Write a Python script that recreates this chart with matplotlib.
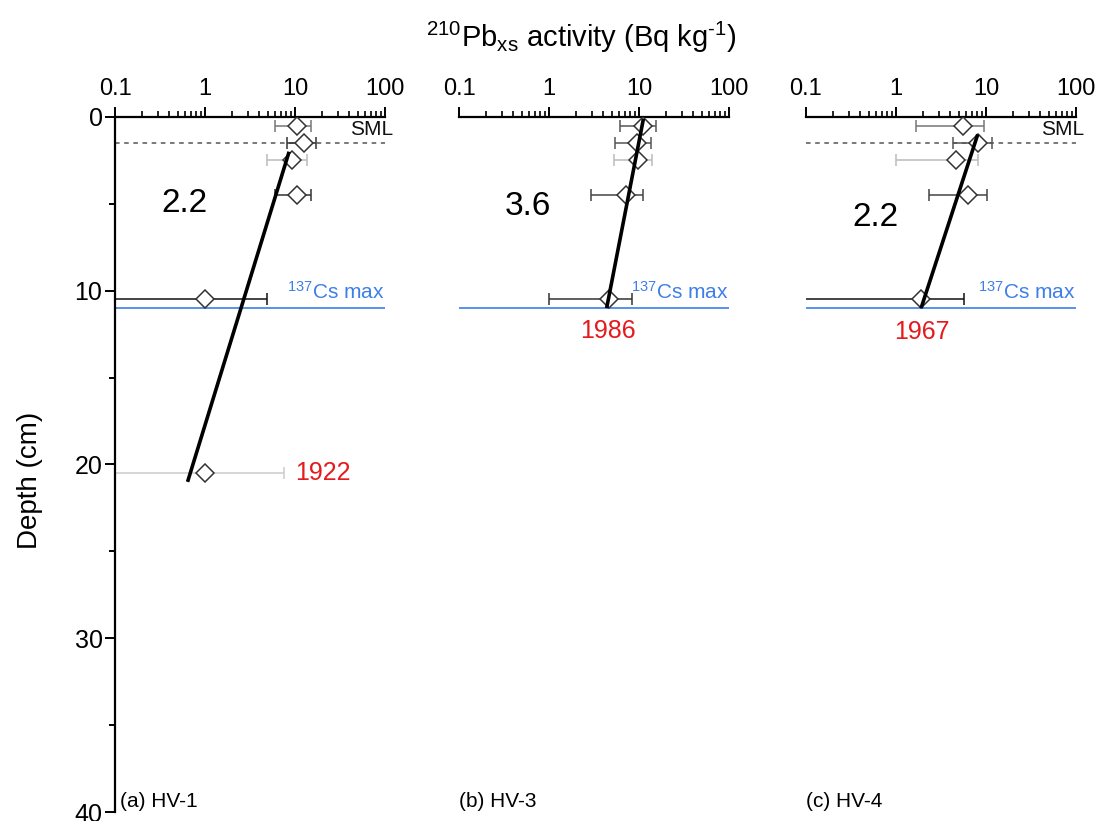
import matplotlib
matplotlib.use("Agg")
import matplotlib.pyplot as plt
from matplotlib.ticker import LogLocator, FixedLocator, NullFormatter, FixedFormatter, MultipleLocator

plt.rcParams['font.family'] = ['Liberation Sans', 'DejaVu Sans']
plt.rcParams['mathtext.fontset'] = 'custom'
plt.rcParams['mathtext.rm'] = 'Liberation Sans'
plt.rcParams['mathtext.it'] = 'Liberation Sans:italic'
plt.rcParams['mathtext.bf'] = 'Liberation Sans:bold'

# ---------------- data ----------------
panel_labels = ["(a) HV-1", "(b) HV-3", "(c) HV-4"]
rates = ["2.2", "3.6", "2.2"]
years = ["1922", "1986", "1967"]

hv1_depth = [0.5, 1.5, 2.5, 4.5, 10.5, 20.5]
hv1_value = [10.5, 12.6, 9.2, 10.6, 1.0, 1.0]
hv1_lo = [6.0, 8.1, 4.9, 6.0, 0.05, 0.1]
hv1_hi = [15.0, 17.1, 13.7, 15.0, 4.9, 7.5]
hv1_fit_depth = [2.0, 21.0]
hv1_fit_value = [8.6, 0.64]

hv3_depth = [0.5, 1.5, 2.5, 4.5, 10.5]
hv3_value = [11.2, 9.4, 9.8, 7.2, 4.7]
hv3_lo = [6.2, 5.4, 5.3, 2.9, 1.0]
hv3_hi = [15.5, 13.5, 13.9, 11.0, 8.3]
hv3_fit_depth = [0.1, 11.0]
hv3_fit_value = [11.2, 4.37]

hv4_depth = [0.5, 1.5, 2.5, 4.5, 10.5]
hv4_value = [5.6, 8.2, 4.7, 6.3, 1.9]
hv4_lo = [1.66, 4.25, 0.99, 2.3, 0.05]
hv4_hi = [9.6, 11.8, 8.1, 10.3, 5.7]
hv4_fit_depth = [1.0, 11.0]
hv4_fit_value = [8.1, 1.9]

sml_depth = [1.5, None, 1.5]
cs_depth = [11.0, 11.0, 11.0]

# errorbar shades (style)
hv1_ecol = ['#777777', '#333333', '#bbbbbb', '#333333', '#111111', '#cccccc']
hv3_ecol = ['#555555', '#555555', '#bbbbbb', '#444444', '#333333']
hv4_ecol = ['#777777', '#555555', '#bbbbbb', '#444444', '#111111']

panels = [
    (hv1_depth, hv1_value, hv1_lo, hv1_hi, hv1_fit_depth, hv1_fit_value, hv1_ecol),
    (hv3_depth, hv3_value, hv3_lo, hv3_hi, hv3_fit_depth, hv3_fit_value, hv3_ecol),
    (hv4_depth, hv4_value, hv4_lo, hv4_hi, hv4_fit_depth, hv4_fit_value, hv4_ecol),
]

# positions of annotation text (value, depth)
rate_pos = [(0.585, 4.95), (0.584, 5.16), (0.596, 5.76)]
year_pos = [(10.0, 20.5, 'left'), (4.5, 12.3, 'center'), (1.93, 12.4, 'center')]

W, H = 1104, 821
fig = plt.figure(figsize=(W / 100, H / 100), dpi=100)

lefts_px = [115, 459, 806]
axw_px = 270
top_px, bot_px = 117, 812

blue = '#3d7fe8'
red = '#e41a1c'

for i, (d, v, lo, hi, fd, fv, ecol) in enumerate(panels):
    ax = fig.add_axes([lefts_px[i] / W, 1 - bot_px / H, axw_px / W, (bot_px - top_px) / H])
    ax.set_xscale('log')
    ax.set_xlim(0.1, 100)
    ax.set_ylim(40, 0)
    for s in ['right', 'bottom']:
        ax.spines[s].set_visible(False)
    ax.spines['top'].set_linewidth(1.6)
    ax.spines['left'].set_linewidth(1.6)
    ax.xaxis.set_ticks_position('top')
    ax.xaxis.set_label_position('top')
    ax.xaxis.set_major_locator(FixedLocator([0.1, 1, 10, 100]))
    ax.xaxis.set_major_formatter(FixedFormatter(['0.1', '1', '10', '100']))
    ax.xaxis.set_minor_locator(LogLocator(base=10, subs=range(2, 10), numticks=20))
    ax.xaxis.set_minor_formatter(NullFormatter())
    ax.tick_params(axis='x', which='major', direction='out', length=7, width=1.4, labelsize=17, pad=5)
    ax.tick_params(axis='x', which='minor', direction='out', length=4, width=1.2)
    if i == 0:
        ax.yaxis.set_major_locator(MultipleLocator(10))
        ax.yaxis.set_minor_locator(MultipleLocator(5))
        ax.tick_params(axis='y', which='major', direction='out', length=7, width=1.4, labelsize=18, pad=2)
        ax.tick_params(axis='y', which='minor', direction='out', length=4, width=1.4)
    else:
        ax.spines['left'].set_visible(False)
        ax.tick_params(axis='y', which='both', left=False, labelleft=False)

    ytr = ax.get_yaxis_transform()
    # SML and Cs lines
    if sml_depth[i] is not None:
        ax.axhline(sml_depth[i], color='#555555', lw=1.1, ls=(0, (3, 3)), zorder=1)
        ax.text(1.03, sml_depth[i] - 0.25, 'SML', transform=ytr,
                ha='right', va='bottom', fontsize=15, color='#111111', clip_on=False)
    ax.axhline(cs_depth[i], color=blue, lw=1.2, zorder=1)
    ax.text(1.0, cs_depth[i] - 0.3, r'$^{137}$Cs max', transform=ytr,
            ha='right', va='bottom', fontsize=15, color=blue)

    # error bars
    for j in range(len(d)):
        ax.errorbar([v[j]], [d[j]], xerr=[[v[j] - lo[j]], [hi[j] - v[j]]], fmt='none',
                    ecolor=ecol[j], elinewidth=1.1, capsize=4, capthick=1.1, zorder=2)
    ax.plot(v, d, ls='none', marker='D', markersize=9, markerfacecolor='white',
            markeredgecolor='#333333', markeredgewidth=1.1, zorder=3)
    ax.plot(fv, fd, color='black', lw=2.6, zorder=4, solid_capstyle='butt')

    ax.text(rate_pos[i][0], rate_pos[i][1], rates[i], fontsize=24, ha='center', va='center')
    yx, yd, yha = year_pos[i]
    ax.text(yx, yd, years[i], fontsize=18, color=red, ha=yha, va='center')
    ax.text(0.018 if i == 0 else 0.0, 39.7, panel_labels[i], transform=ytr,
            fontsize=15, ha='left', va='baseline')

fig.text(581 / W, 1 - 47 / H, r'$^{210}$Pb$_{\mathrm{xs}}$ activity (Bq kg$^{\text{-1}}$)',
         ha='center', va='baseline', fontsize=21)
fig.text(30 / W, 1 - 480 / H, 'Depth (cm)', rotation=90, ha='center', va='center', fontsize=20)

fig.savefig('out.png', dpi=100)
